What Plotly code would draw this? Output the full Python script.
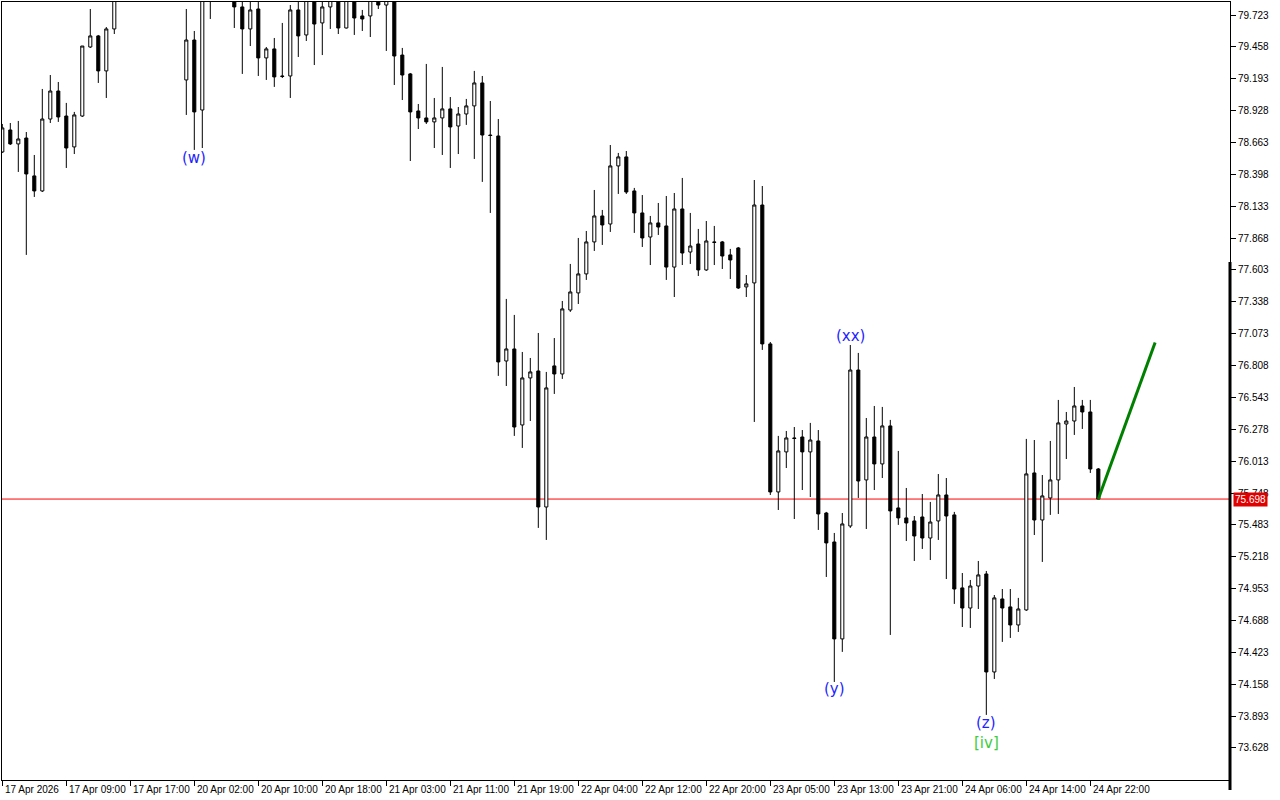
import plotly.graph_objects as go

# ---------------- data (hourly bars, index 0 = 17 Apr 2026 01:00) ----------------
opens = [78.584, 78.767, 78.651, 78.700, 78.385, 78.260, 78.858, 79.091, 78.883, 78.626,
         78.883, 79.457, 79.549, 79.258, 79.607, 79.950, 80.050, 80.120, 80.050, 80.100,
         80.000, 80.080, 80.020, 79.183, 79.515, 78.933, 79.950, 79.880, 79.950, 79.920,
         79.790, 79.607, 79.773, 79.366, 79.441, 79.216, 79.216, 79.765, 79.557, 79.880,
         79.657, 79.790, 79.900, 79.615, 79.880, 79.715, 79.715, 79.870, 79.806, 79.860,
         79.390, 79.233, 78.925, 78.867, 78.834, 78.867, 78.942, 78.800, 78.900, 78.967,
         79.158, 78.725, 78.717, 76.846, 76.946, 76.314, 76.705, 76.763, 75.632, 76.805,
         76.738, 77.270, 77.412, 77.570, 77.836, 78.052, 77.985, 78.468, 78.543, 78.260,
         78.077, 77.877, 77.994, 77.969, 77.627, 78.110, 77.752, 77.819, 77.603, 77.836,
         77.836, 77.728, 77.786, 77.462, 77.495, 78.143, 76.988, 75.757, 76.090, 76.206,
         76.214, 76.090, 76.181, 75.582, 75.341, 74.535, 75.474, 76.771, 75.857, 76.214,
         75.990, 76.306, 75.624, 75.541, 75.516, 75.549, 75.374, 75.516, 75.732, 75.566,
         74.959, 74.792, 74.975, 75.075, 74.260, 74.867, 74.801, 74.651, 74.776, 75.915,
         75.524, 75.707, 75.857, 76.322, 76.347, 76.472, 76.422, 75.948]
highs = [78.817, 78.825, 78.842, 78.750, 78.559, 79.108, 79.224, 79.166, 78.992, 78.917,
         79.465, 79.773, 79.557, 79.623, 80.050, 80.100, 80.200, 80.250, 80.180, 80.220,
         80.150, 80.200, 80.120, 79.773, 79.590, 80.000, 80.050, 80.000, 80.050, 80.000,
         79.860, 79.860, 79.870, 79.457, 79.532, 79.657, 79.806, 79.860, 79.950, 79.950,
         79.870, 79.950, 79.950, 79.920, 79.930, 79.765, 79.920, 79.930, 79.950, 79.920,
         79.449, 79.241, 78.983, 79.316, 79.033, 79.291, 79.041, 78.958, 79.025, 79.258,
         79.216, 79.008, 78.858, 77.362, 77.229, 76.921, 76.871, 77.079, 76.755, 77.037,
         77.345, 77.653, 77.869, 77.927, 78.268, 78.102, 78.642, 78.576, 78.592, 78.285,
         78.226, 78.052, 78.160, 78.218, 78.243, 78.368, 78.077, 77.944, 78.010, 77.969,
         77.844, 77.778, 77.794, 77.561, 78.351, 78.301, 77.004, 76.223, 76.264, 76.297,
         76.272, 76.331, 76.272, 75.591, 75.416, 75.582, 76.979, 76.913, 76.372, 76.472,
         76.464, 76.356, 76.098, 75.790, 75.557, 75.740, 75.674, 75.906, 75.873, 75.591,
         75.083, 75.025, 75.183, 75.100, 74.900, 74.950, 74.950, 74.876, 76.198, 76.189,
         75.898, 76.181, 76.522, 76.422, 76.630, 76.522, 76.522, 75.956]
lows = [78.576, 78.642, 78.418, 77.728, 78.210, 78.251, 78.825, 78.834, 78.451, 78.567,
        78.875, 79.449, 79.158, 79.033, 79.565, 79.880, 79.980, 80.000, 79.920, 79.950,
        79.900, 79.950, 79.880, 78.892, 78.601, 78.617, 79.690, 79.850, 79.850, 79.615,
        79.233, 79.465, 79.216, 79.183, 79.125, 79.199, 79.033, 79.374, 79.507, 79.307,
        79.390, 79.607, 79.565, 79.611, 79.557, 79.590, 79.540, 79.773, 79.424, 79.141,
        79.016, 78.509, 78.775, 78.817, 78.617, 78.559, 78.451, 78.567, 78.809, 78.526,
        78.335, 78.077, 76.722, 76.638, 76.223, 76.123, 76.347, 75.458, 75.358, 76.572,
        76.697, 77.254, 77.320, 77.520, 77.761, 77.811, 77.919, 78.235, 78.235, 77.911,
        77.794, 77.644, 77.894, 77.520, 77.378, 77.644, 77.653, 77.553, 77.595, 77.644,
        77.611, 77.528, 77.445, 77.378, 76.339, 76.938, 75.732, 75.607, 75.956, 75.532,
        75.773, 75.715, 75.441, 75.050, 74.177, 74.427, 75.458, 75.707, 75.449, 75.773,
        75.873, 74.568, 75.483, 75.349, 75.183, 75.283, 75.191, 75.358, 75.033, 74.826,
        74.634, 74.626, 74.784, 73.903, 74.202, 74.510, 74.543, 74.593, 74.768, 75.399,
        75.175, 75.566, 75.574, 76.031, 76.231, 76.281, 75.915, 75.698]
closes = [78.784, 78.651, 78.692, 78.401, 78.260, 78.858, 79.091, 78.875, 78.617, 78.892,
          79.465, 79.549, 79.258, 79.607, 79.950, 80.050, 80.120, 80.050, 80.100, 80.000,
          80.080, 80.020, 79.950, 79.515, 78.917, 79.900, 79.880, 79.950, 79.920, 79.790,
          79.607, 79.765, 79.366, 79.441, 79.208, 79.212, 79.765, 79.549, 79.880, 79.648,
          79.790, 79.900, 79.615, 79.880, 79.698, 79.690, 79.870, 79.806, 79.860, 79.382,
          79.224, 78.917, 78.867, 78.834, 78.867, 78.942, 78.792, 78.900, 78.967, 79.158,
          78.725, 78.721, 76.838, 76.946, 76.297, 76.705, 76.755, 75.632, 76.622, 76.738,
          77.279, 77.420, 77.570, 77.836, 78.052, 77.977, 78.468, 78.543, 78.251, 78.077,
          77.869, 77.994, 77.960, 77.627, 78.110, 77.744, 77.802, 77.603, 77.844, 77.832,
          77.719, 77.686, 77.453, 77.487, 78.143, 76.988, 75.757, 76.098, 76.206, 76.202,
          76.090, 76.189, 75.574, 75.333, 74.535, 75.491, 76.771, 75.848, 76.214, 75.990,
          76.306, 75.599, 75.541, 75.499, 75.391, 75.374, 75.507, 75.732, 75.557, 74.950,
          74.792, 74.975, 75.067, 74.260, 74.876, 74.792, 74.651, 74.784, 75.907, 75.524,
          75.724, 75.857, 76.331, 76.347, 76.472, 76.422, 75.948, 75.698]
bar_index = list(range(len(closes)))

# x-axis time labels (every 8 bars)
time_tick_index = [0, 8, 16, 24, 32, 40, 48, 56, 64, 72, 80, 88, 96, 104, 112, 120, 128, 136]
time_tick_labels = ["17 Apr 2026", "17 Apr 09:00", "17 Apr 17:00", "20 Apr 02:00", "20 Apr 10:00",
                    "20 Apr 18:00", "21 Apr 03:00", "21 Apr 11:00", "21 Apr 19:00", "22 Apr 04:00",
                    "22 Apr 12:00", "22 Apr 20:00", "23 Apr 05:00", "23 Apr 13:00", "23 Apr 21:00",
                    "24 Apr 06:00", "24 Apr 14:00", "24 Apr 22:00"]

# price axis labels
price_ticks = [79.723, 79.458, 79.193, 78.928, 78.663, 78.398, 78.133, 77.868, 77.603, 77.338,
               77.073, 76.808, 76.543, 76.278, 76.013, 75.748, 75.483, 75.218, 74.953, 74.688,
               74.423, 74.158, 73.893, 73.628]
price_tick_labels = ["%.3f" % v for v in price_ticks]

current_price = 75.698

# projection line (green)
proj_x = [137, 144.1]
proj_y = [75.698, 77.000]

# wave labels
wave_text = ["(w)", "(xx)", "(y)", "(z)"]
wave_x = [24, 106, 104, 123]
wave_y = [78.534, 77.054, 74.119, 73.838]
degree_text = ["[iv]"]
degree_x = [123]
degree_y = [73.670]

# ---------------- figure ----------------
fig = go.Figure()

fig.add_trace(go.Candlestick(
    x=bar_index, open=opens, high=highs, low=lows, close=closes,
    increasing=dict(line=dict(color="black", width=1), fillcolor="white"),
    decreasing=dict(line=dict(color="black", width=1), fillcolor="black"),
    whiskerwidth=0, showlegend=False, hoverinfo="skip",
))

fig.add_trace(go.Scatter(
    x=proj_x, y=proj_y, mode="lines",
    line=dict(color="#008000", width=3), showlegend=False, hoverinfo="skip",
))

# current price line
fig.add_shape(type="line", xref="paper", x0=0, x1=1, yref="y",
              y0=current_price, y1=current_price,
              line=dict(color="#ff0000", width=1), layer="below")

# thick right-edge bar
fig.add_shape(type="line", xref="paper", x0=1, x1=1, yref="paper",
              y0=0.6658, y1=-0.0129, line=dict(color="black", width=3))

annotations = []
for t, lab in zip(time_tick_index, time_tick_labels):
    annotations.append(dict(x=t, y=0, xref="x", yref="paper", text=lab,
                            xanchor="left", yanchor="top", xshift=1, yshift=-2,
                            showarrow=False,
                            font=dict(family="Liberation Sans", size=10, color="black")))
for txt, xx, yy in zip(wave_text, wave_x, wave_y):
    annotations.append(dict(x=xx, y=yy, xref="x", yref="y", text=txt,
                            xanchor="center", yanchor="middle", showarrow=False,
                            font=dict(family="DejaVu Sans", size=15, color="#1f1fff")))
for txt, xx, yy in zip(degree_text, degree_x, degree_y):
    annotations.append(dict(x=xx, y=yy, xref="x", yref="y", text=txt,
                            xanchor="center", yanchor="middle", showarrow=False,
                            font=dict(family="DejaVu Sans", size=15, color="#3ccc3c")))
annotations.append(dict(x=1, y=current_price, xref="paper", yref="y",
                        text="%.3f" % current_price, xanchor="left", yanchor="middle",
                        xshift=3, showarrow=False, bgcolor="#e00000", borderpad=1,
                        font=dict(family="Liberation Sans", size=10, color="white")))

fig.update_layout(
    width=1280, height=800,
    margin=dict(l=2, r=50, t=2, b=20),
    paper_bgcolor="white", plot_bgcolor="white",
    boxgap=0.45,
    annotations=annotations,
    xaxis=dict(range=[-0.0375, 153.46], showgrid=False, zeroline=False,
               rangeslider=dict(visible=False),
               tickvals=time_tick_index, showticklabels=False,
               ticks="outside", ticklen=5, tickcolor="black",
               showline=True, linecolor="black", linewidth=1, mirror=True),
    yaxis=dict(range=[73.3618, 79.8311], side="right", showgrid=False, zeroline=False,
               tickvals=price_ticks, ticktext=price_tick_labels,
               ticks="outside", ticklen=5, tickcolor="black",
               tickfont=dict(family="Liberation Sans", size=10, color="black"),
               showline=True, linecolor="black", linewidth=1, mirror=True),
)

fig.write_html("out.html",
               config={"displayModeBar": False},
               post_script="document.body.style.margin='0';document.body.style.overflow='hidden';")
